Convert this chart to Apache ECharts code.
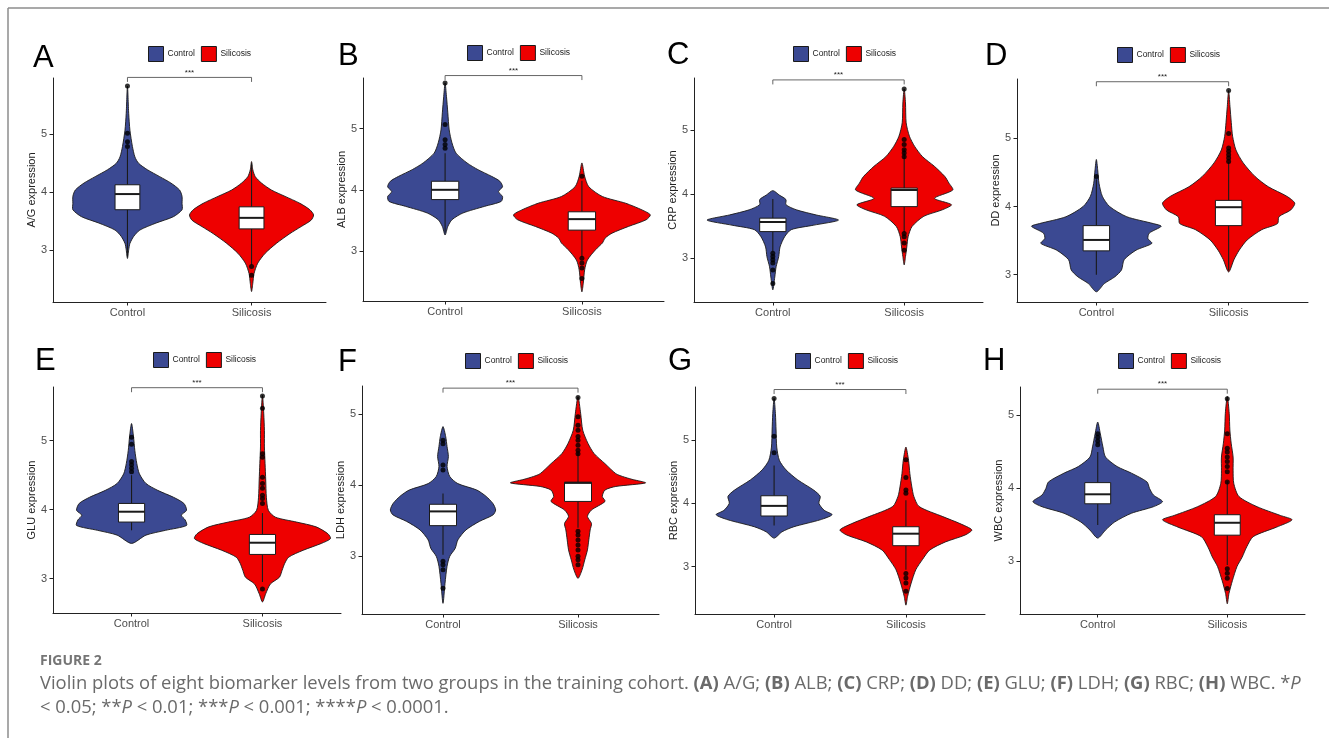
<!DOCTYPE html>
<html><head><meta charset="utf-8">
<script src="https://cdn.jsdelivr.net/npm/echarts@6/dist/echarts.min.js"></script>
<style>html,body{margin:0;padding:0;background:#fff}#c{width:1329px;height:738px}</style>
</head><body><div id="c"></div>
<script>
// ---------- data ----------
const groups = ['Control', 'Silicosis'];
const panelLetters = ['A', 'B', 'C', 'D', 'E', 'F', 'G', 'H'];
const markers = ['A/G', 'ALB', 'CRP', 'DD', 'GLU', 'LDH', 'RBC', 'WBC'];
const yTickValues = [3, 4, 5];
const yMinValues = [2.11, 2.18, 2.31, 2.60, 2.50, 2.19, 2.25, 2.28];
const yMaxValues = [5.97, 5.83, 5.81, 5.87, 5.78, 5.39, 5.84, 5.39];
const bracketValues = [5.98, 5.87, 5.78, 5.83, 5.77, 5.36, 5.80, 5.36];
const significance = ['***', '***', '***', '***', '***', '***', '***', '***'];

// violin outlines: [value, half width in category units]
const violinA_Control = [[2.86,0],[3.01,0.01],[3.12,0.02],[3.24,0.05],[3.35,0.10],[3.47,0.23],[3.58,0.37],[3.70,0.44],[3.81,0.44],[3.93,0.44],[4.04,0.42],[4.16,0.35],[4.27,0.26],[4.39,0.16],[4.50,0.09],[4.61,0.06],[4.79,0.04],[5.07,0.02],[5.36,0.01],[5.83,0]];
const violinA_Silicosis = [[2.29,0],[2.43,0.01],[2.60,0.02],[2.78,0.05],[2.95,0.11],[3.12,0.20],[3.29,0.31],[3.41,0.40],[3.52,0.48],[3.61,0.50],[3.70,0.47],[3.81,0.39],[3.93,0.27],[4.04,0.16],[4.16,0.08],[4.27,0.03],[4.39,0.01],[4.53,0]];
const violinB_Control = [[3.26,0],[3.40,0.02],[3.51,0.05],[3.62,0.13],[3.73,0.29],[3.81,0.41],[3.89,0.42],[3.97,0.39],[4.05,0.42],[4.14,0.40],[4.22,0.34],[4.33,0.24],[4.44,0.16],[4.60,0.08],[4.77,0.05],[4.98,0.03],[5.26,0.02],[5.53,0.01],[5.75,0]];
const violinB_Silicosis = [[2.33,0],[2.47,0.01],[2.69,0.02],[2.85,0.04],[3.02,0.10],[3.13,0.15],[3.21,0.17],[3.29,0.22],[3.40,0.34],[3.51,0.47],[3.59,0.50],[3.67,0.44],[3.78,0.32],[3.89,0.15],[4.05,0.05],[4.22,0.02],[4.44,0]];
const violinC_Control = [[2.50,0],[2.70,0.015],[2.86,0.025],[3.02,0.045],[3.17,0.055],[3.33,0.09],[3.44,0.14],[3.51,0.31],[3.59,0.50],[3.67,0.33],[3.75,0.18],[3.83,0.10],[3.91,0.10],[3.98,0.05],[4.05,0]];
const violinC_Silicosis = [[2.89,0],[3.02,0.01],[3.17,0.02],[3.33,0.03],[3.49,0.06],[3.65,0.15],[3.75,0.29],[3.83,0.36],[3.93,0.23],[4.06,0.37],[4.17,0.34],[4.27,0.31],[4.43,0.23],[4.58,0.14],[4.74,0.08],[4.90,0.04],[5.11,0.015],[5.42,0.01],[5.64,0]];
const violinD_Control = [[2.75,0],[2.87,0.06],[2.97,0.14],[3.07,0.19],[3.22,0.21],[3.36,0.30],[3.46,0.42],[3.53,0.39],[3.61,0.40],[3.71,0.49],[3.75,0.43],[3.85,0.23],[4.00,0.10],[4.15,0.045],[4.34,0.02],[4.54,0.01],[4.69,0]];
const violinD_Silicosis = [[3.04,0],[3.22,0.04],[3.36,0.08],[3.51,0.14],[3.66,0.25],[3.75,0.37],[3.85,0.38],[3.95,0.47],[4.05,0.50],[4.15,0.44],[4.29,0.30],[4.44,0.20],[4.64,0.11],[4.83,0.055],[5.03,0.03],[5.23,0.02],[5.47,0.01],[5.70,0]];
const violinE_Control = [[3.51,0],[3.63,0.11],[3.70,0.26],[3.77,0.42],[3.85,0.41],[3.92,0.38],[3.99,0.42],[4.09,0.40],[4.18,0.32],[4.28,0.20],[4.38,0.11],[4.52,0.06],[4.67,0.04],[4.86,0.025],[5.06,0.015],[5.25,0]];
const violinE_Silicosis = [[2.66,0],[2.78,0.025],[2.92,0.06],[3.02,0.13],[3.12,0.15],[3.22,0.17],[3.31,0.20],[3.41,0.31],[3.51,0.45],[3.58,0.52],[3.65,0.50],[3.75,0.41],[3.82,0.26],[3.89,0.10],[3.99,0.045],[4.18,0.03],[4.43,0.025],[4.67,0.02],[4.91,0.015],[5.15,0.015],[5.39,0.01],[5.66,0]];
const violinF_Control = [[2.34,0],[2.62,0.015],[2.86,0.03],[3.00,0.05],[3.11,0.09],[3.23,0.11],[3.37,0.17],[3.49,0.27],[3.58,0.37],[3.65,0.39],[3.74,0.37],[3.84,0.32],[3.93,0.25],[4.02,0.11],[4.12,0.05],[4.26,0.03],[4.40,0.04],[4.54,0.03],[4.68,0.02],[4.82,0]];
const violinF_Silicosis = [[2.69,0],[2.81,0.03],[2.95,0.05],[3.09,0.07],[3.23,0.08],[3.37,0.09],[3.46,0.10],[3.56,0.07],[3.65,0.10],[3.77,0.20],[3.84,0.18],[3.93,0.20],[3.98,0.28],[4.03,0.50],[4.08,0.40],[4.12,0.33],[4.16,0.28],[4.30,0.20],[4.44,0.12],[4.58,0.075],[4.77,0.035],[5.00,0.02],[5.24,0]];
const violinG_Control = [[3.45,0],[3.55,0.06],[3.63,0.15],[3.74,0.35],[3.82,0.44],[3.89,0.38],[4.00,0.34],[4.11,0.35],[4.21,0.30],[4.37,0.18],[4.53,0.09],[4.68,0.04],[4.89,0.02],[5.16,0.015],[5.42,0.01],[5.66,0]];
const violinG_Silicosis = [[2.39,0],[2.53,0.013],[2.74,0.04],[2.95,0.075],[3.11,0.125],[3.26,0.18],[3.39,0.30],[3.50,0.45],[3.58,0.50],[3.68,0.41],[3.79,0.28],[3.95,0.10],[4.11,0.06],[4.26,0.045],[4.47,0.03],[4.68,0.02],[4.89,0]];
const violinH_Control = [[3.32,0],[3.43,0.06],[3.54,0.13],[3.66,0.26],[3.75,0.43],[3.82,0.50],[3.91,0.43],[4.00,0.40],[4.09,0.38],[4.21,0.26],[4.30,0.15],[4.43,0.06],[4.57,0.04],[4.75,0.02],[4.91,0]];
const violinH_Silicosis = [[2.42,0],[2.56,0.013],[2.74,0.04],[2.93,0.075],[3.06,0.115],[3.20,0.15],[3.34,0.20],[3.47,0.38],[3.57,0.50],[3.63,0.41],[3.75,0.23],[3.89,0.09],[4.07,0.05],[4.25,0.045],[4.43,0.045],[4.62,0.03],[4.80,0.02],[5.03,0.015],[5.26,0]];

// box stats: [lower whisker, Q1, median, Q3, upper whisker]
const boxA_Control = [2.89, 3.70, 3.97, 4.13, 4.75];
const boxA_Silicosis = [2.75, 3.37, 3.56, 3.75, 4.50];
const boxB_Control = [3.30, 3.84, 4.00, 4.14, 4.60];
const boxB_Silicosis = [2.90, 3.34, 3.52, 3.64, 4.15];
const boxC_Control = [3.10, 3.41, 3.56, 3.62, 3.92];
const boxC_Silicosis = [3.40, 3.80, 4.06, 4.09, 4.70];
const boxD_Control = [3.00, 3.35, 3.51, 3.72, 4.40];
const boxD_Silicosis = [3.06, 3.72, 3.99, 4.09, 4.65];
const boxE_Control = [3.70, 3.82, 3.97, 4.09, 4.50];
const boxE_Silicosis = [2.95, 3.35, 3.52, 3.64, 3.95];
const boxF_Control = [3.02, 3.43, 3.63, 3.73, 3.88];
const boxF_Silicosis = [3.40, 3.77, 4.03, 4.04, 4.45];
const boxG_Control = [3.65, 3.80, 3.96, 4.12, 4.60];
const boxG_Silicosis = [2.95, 3.33, 3.52, 3.63, 4.05];
const boxH_Control = [3.50, 3.79, 3.92, 4.08, 4.50];
const boxH_Silicosis = [2.95, 3.36, 3.53, 3.64, 4.10];

// outlier points
const outlierA_Control = [5.83, 5.02, 4.87, 4.79];
const outlierA_Silicosis = [2.72, 2.57];
const outlierB_Control = [5.75, 5.07, 4.82, 4.74, 4.68];
const outlierB_Silicosis = [4.22, 2.88, 2.80, 2.72, 2.55];
const outlierC_Control = [3.07, 3.02, 2.97, 2.92, 2.81, 2.60];
const outlierC_Silicosis = [5.64, 4.85, 4.77, 4.69, 4.64, 4.58, 3.38, 3.33, 3.23, 3.12];
const outlierD_Control = [4.44];
const outlierD_Silicosis = [5.70, 5.07, 4.86, 4.81, 4.76, 4.71, 4.66];
const outlierE_Control = [5.05, 4.95, 4.70, 4.65, 4.60, 4.55];
const outlierE_Silicosis = [5.65, 5.47, 4.81, 4.76, 4.47, 4.38, 4.31, 4.21, 4.16, 4.09, 2.85];
const outlierF_Control = [4.63, 4.58, 4.28, 4.21, 2.93, 2.88, 2.81, 2.55];
const outlierF_Silicosis = [5.23, 4.96, 4.84, 4.77, 4.68, 4.63, 4.56, 4.49, 4.44, 3.35, 3.30, 3.23, 3.16, 3.09, 3.00, 2.95, 2.88];
const outlierG_Control = [5.66, 5.06, 4.80];
const outlierG_Silicosis = [4.69, 4.41, 4.21, 4.16, 2.89, 2.82, 2.74, 2.61];
const outlierH_Control = [4.75, 4.70, 4.65, 4.60];
const outlierH_Silicosis = [5.23, 4.75, 4.55, 4.50, 4.43, 4.37, 4.30, 4.23, 4.09, 2.90, 2.84, 2.77, 2.63];

// ---------- assembly ----------
const panelData = [
  [[violinA_Control, violinA_Silicosis], [boxA_Control, boxA_Silicosis], [outlierA_Control, outlierA_Silicosis]],
  [[violinB_Control, violinB_Silicosis], [boxB_Control, boxB_Silicosis], [outlierB_Control, outlierB_Silicosis]],
  [[violinC_Control, violinC_Silicosis], [boxC_Control, boxC_Silicosis], [outlierC_Control, outlierC_Silicosis]],
  [[violinD_Control, violinD_Silicosis], [boxD_Control, boxD_Silicosis], [outlierD_Control, outlierD_Silicosis]],
  [[violinE_Control, violinE_Silicosis], [boxE_Control, boxE_Silicosis], [outlierE_Control, outlierE_Silicosis]],
  [[violinF_Control, violinF_Silicosis], [boxF_Control, boxF_Silicosis], [outlierF_Control, outlierF_Silicosis]],
  [[violinG_Control, violinG_Silicosis], [boxG_Control, boxG_Silicosis], [outlierG_Control, outlierG_Silicosis]],
  [[violinH_Control, violinH_Silicosis], [boxH_Control, boxH_Silicosis], [outlierH_Control, outlierH_Silicosis]]
];

// layout (pixels): grid [left, top, width, height], legend [left, top], letter [x, y]
const layout = [
  {grid: [53, 78, 273, 224], legend: [148, 46], letter: [33, 57.5]},
  {grid: [363, 78, 301, 223], legend: [467, 45], letter: [338, 56]},
  {grid: [694, 78, 289, 224], legend: [793, 46], letter: [667, 55]},
  {grid: [1017, 79, 291, 223], legend: [1117, 47], letter: [985, 55.5]},
  {grid: [53, 387, 288, 226], legend: [153, 352], letter: [35, 361]},
  {grid: [362, 386, 297, 228], legend: [465, 353], letter: [338, 362]},
  {grid: [695, 387, 290, 227], legend: [795, 353], letter: [668, 361]},
  {grid: [1020, 387, 285, 227], legend: [1118, 353], letter: [983, 361]}
];

const colors = {Control: '#3B4992', Silicosis: '#EE0000'};
const FONT = '"Liberation Sans", Arial, Helvetica, sans-serif';
const INK = '#1a1a1a';
const BOX_HALF = 0.1;

function violinRender(profile, center) {
  return function (params, api) {
    const pts = [];
    for (let k = 0; k < profile.length; k++) pts.push(api.coord([center + profile[k][1], profile[k][0]]));
    for (let k = profile.length - 2; k >= 1; k--) pts.push(api.coord([center - profile[k][1], profile[k][0]]));
    return {type: 'polygon', shape: {points: pts, smooth: 0.25},
      style: {fill: api.visual('color'), stroke: INK, lineWidth: 0.9}};
  };
}
function boxRender(stats, center) {
  return function (params, api) {
    const [wl, q1, med, q3, wh] = stats;
    const t = api.coord([center, wh]), b = api.coord([center, wl]);
    const p1 = api.coord([center - BOX_HALF, q3]), p2 = api.coord([center + BOX_HALF, q1]);
    const m1 = api.coord([center - BOX_HALF, med]), m2 = api.coord([center + BOX_HALF, med]);
    return {type: 'group', children: [
      {type: 'line', shape: {x1: t[0], y1: t[1], x2: b[0], y2: b[1]}, style: {stroke: INK, lineWidth: 1.1}},
      {type: 'rect', shape: {x: p1[0], y: p1[1], width: p2[0] - p1[0], height: p2[1] - p1[1]}, style: {fill: '#fff', stroke: INK, lineWidth: 1}},
      {type: 'line', shape: {x1: m1[0], y1: m1[1], x2: m2[0], y2: m2[1]}, style: {stroke: INK, lineWidth: 2}}
    ]};
  };
}
function bracketRender(value, label) {
  return function (params, api) {
    const a = api.coord([1, value]), b = api.coord([2, value]);
    return {type: 'group', children: [
      {type: 'polyline', shape: {points: [[a[0], a[1] + 4.5], a, b, [b[0], b[1] + 4.5]]}, style: {stroke: '#555', lineWidth: 0.9, fill: null}},
      {type: 'text', style: {text: label, x: (a[0] + b[0]) / 2, y: a[1] - 1, align: 'center', verticalAlign: 'bottom', fontSize: 8, fontFamily: FONT, fill: '#222'}}
    ]};
  };
}

const option = {animation: false, backgroundColor: '#fff', grid: [], xAxis: [], yAxis: [], legend: [], series: [], graphic: []};

layout.forEach((L, i) => {
  const [vio, box, out] = panelData[i];
  option.grid.push({left: L.grid[0], top: L.grid[1], width: L.grid[2], height: L.grid[3], containLabel: false, outerBoundsMode: 'none'});
  const axisLine = {show: true, lineStyle: {color: '#222', width: 1}};
  option.xAxis.push({type: 'value', gridIndex: i, min: 0.4, max: 2.6,
    axisLine, splitLine: {show: false},
    axisTick: {show: true, length: 3.5, customValues: [1, 2], lineStyle: {color: '#222'}},
    axisLabel: {customValues: [1, 2], formatter: v => groups[Math.round(v) - 1], margin: 5, fontSize: 11, color: '#4d4d4d', fontFamily: FONT}});
  option.yAxis.push({type: 'value', gridIndex: i, min: yMinValues[i], max: yMaxValues[i],
    name: markers[i] + ' expression', nameLocation: 'middle', nameGap: 12.5,
    nameTextStyle: {fontSize: 11, color: '#222', fontFamily: FONT},
    axisLine, splitLine: {show: false},
    axisTick: {show: true, length: 3.5, customValues: yTickValues, lineStyle: {color: '#222'}},
    axisLabel: {customValues: yTickValues, margin: 6, fontSize: 11, color: '#4d4d4d', fontFamily: FONT}});
  option.legend.push({left: L.legend[0], top: L.legend[1], orient: 'horizontal', data: groups, icon: 'rect',
    itemWidth: 15, itemHeight: 15, itemGap: 6, selectedMode: false, padding: 0,
    itemStyle: {borderColor: INK, borderWidth: 1},
    textStyle: {fontSize: 8.5, color: '#222', fontFamily: FONT, padding: [0, 0, 0, -1]}});
  groups.forEach((g, gi) => {
    const center = gi + 1;
    option.series.push({type: 'custom', name: g, xAxisIndex: i, yAxisIndex: i, z: 2,
      itemStyle: {color: colors[g]}, data: [[center, box[gi][2]]], renderItem: violinRender(vio[gi], center)});
    option.series.push({type: 'custom', name: g + ' box', xAxisIndex: i, yAxisIndex: i, z: 3,
      data: [[center, box[gi][2]]], renderItem: boxRender(box[gi], center)});
    option.series.push({type: 'scatter', name: g + ' outliers', xAxisIndex: i, yAxisIndex: i, z: 4,
      symbol: 'circle', symbolSize: 5, itemStyle: {color: '#000'},
      data: out[gi].map(v => [center, v])});
  });
  option.series.push({type: 'custom', name: 'bracket', xAxisIndex: i, yAxisIndex: i, z: 5, clip: false,
    data: [[1.5, bracketValues[i]]], renderItem: bracketRender(bracketValues[i], significance[i])});
  option.graphic.push({type: 'text', left: L.letter[0], top: L.letter[1] - 15,
    style: {text: panelLetters[i], fontSize: 31, fontFamily: FONT, fill: '#000'}});
});

// frame and caption
option.graphic.push({type: 'line', shape: {x1: 8, y1: 8, x2: 1329, y2: 8}, style: {stroke: '#8c8c8c', lineWidth: 1.5}});
option.graphic.push({type: 'line', shape: {x1: 8, y1: 8, x2: 8, y2: 738}, style: {stroke: '#8c8c8c', lineWidth: 1.5}});
const CAP = '"Open Sans", Lato, sans-serif';
option.graphic.push({type: 'text', left: 40, top: 654,
  style: {text: 'FIGURE 2', fontSize: 14, fontWeight: 'bold', fontFamily: CAP, fill: '#757575'}});
const CS = 18.4;
const rb = {fontWeight: 'bold', fontSize: CS, fontFamily: CAP, fill: '#6a6a6a'};
const ri = {fontStyle: 'italic', fontSize: CS, fontFamily: CAP, fill: '#6a6a6a'};
option.graphic.push({type: 'text', left: 40, top: 675,
  style: {text: 'Violin plots of eight biomarker levels from two groups in the training cohort. {b|(A)} A/G; {b|(B)} ALB; {b|(C)} CRP; {b|(D)} DD; {b|(E)} GLU; {b|(F)} LDH; {b|(G)} RBC; {b|(H)} WBC. *{i|P}',
    fontSize: CS, fontFamily: CAP, fill: '#6a6a6a', rich: {b: rb, i: ri}}});
option.graphic.push({type: 'text', left: 40, top: 699,
  style: {text: '< 0.05; **{i|P} < 0.01; ***{i|P} < 0.001; ****{i|P} < 0.0001.',
    fontSize: CS, fontFamily: CAP, fill: '#6a6a6a', rich: {b: rb, i: ri}}});

const chart = echarts.init(document.getElementById('c'), null, {renderer: 'canvas'});
chart.setOption(option);
</script>
</body></html>
